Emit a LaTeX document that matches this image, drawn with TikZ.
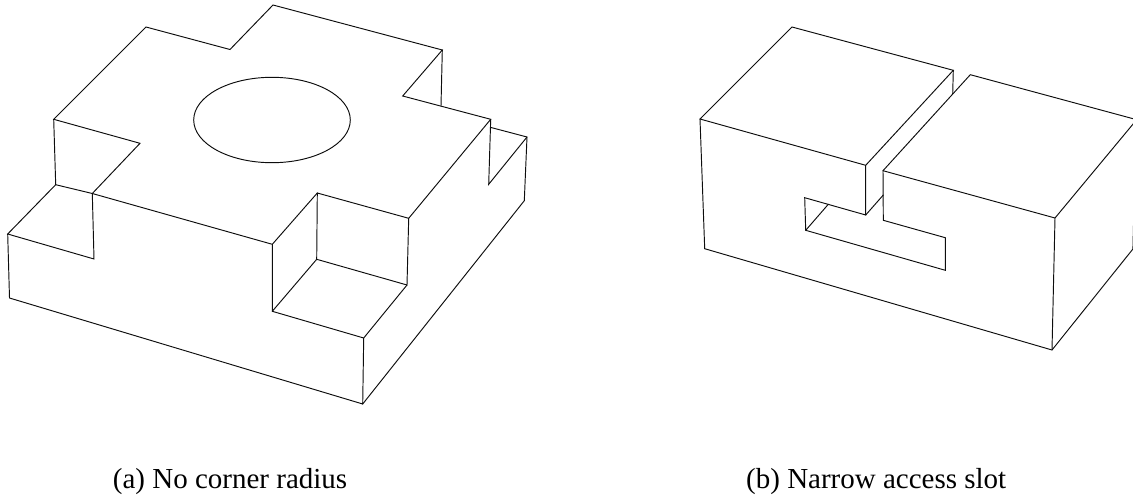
\documentclass[tikz,border=0pt]{standalone}
\usepackage{fontspec}
\setmainfont{Liberation Serif}
\tikzset{
  edge/.style={line width=0.95pt,line join=miter,line cap=round,draw=black!95},
  caption/.style={inner sep=0pt,anchor=base west,font=\fontsize{29}{32}\selectfont}
}
\begin{document}
\begin{tikzpicture}[x=1pt,y=-1pt]
\useasboundingbox (0,0) rectangle (1133,498);
% Figure (a)
\draw[edge] (146,27) -- (230,49.5) -- (273,5) -- (442.3,50) -- (402.7,96) -- (490.7,119.3) -- (408.7,218.3) -- (317.3,193) -- (272.3,244.3) -- (92.3,193.5) -- (140,143.3) -- (53.7,119.3) -- cycle;
\draw[edge] (442.3,50) -- (441,106);
\draw[edge] (53.7,119.3) -- (55.7,184.7) -- (92.3,193.5) -- (94,259) -- (7.7,234) -- (55.7,184.7);
\draw[edge] (7.7,234) -- (9.5,298) -- (362.7,404) -- (524.3,200.7) -- (527,137) -- (491,127.5);
\draw[edge] (527,137) -- (488.7,184.3) -- (490.7,119.3);
\draw[edge] (272.3,244.3) -- (272.3,311.3) -- (363.7,338) -- (362.7,404);
\draw[edge] (272.3,311.3) -- (316.7,259.3) -- (317.3,193);
\draw[edge] (316.7,259.3) -- (407,285) -- (408.7,218.3);
\draw[edge] (407,285) -- (363.7,338);
\draw[edge] (272,120) ellipse [x radius=78.3,y radius=42.7];
% Figure (b)
\draw[edge] (700,119) -- (792,27) -- (953.3,70.3) -- (865.7,165.3) -- cycle;
\draw[edge] (700,119) -- (704.7,248.7) -- (1052,350) -- (1132.9,249) -- (1136,120.5);
\draw[edge] (865.7,165.3) -- (865.7,215) -- (804.7,197.7) -- (805.7,230.3) -- (945.3,270.3) -- (945.3,237.7) -- (883.3,220.3) -- (883,170.7) -- (1055,218) -- (1052,350);
\draw[edge] (883,170.7) -- (970.3,74.7) -- (1136,119.5);
\draw[edge] (1055,218) -- (1136,120.5);
\draw[edge] (865.7,215) -- (883.3,195);
\draw[edge] (953.3,70.3) -- (952.7,94);
\draw[edge] (805.7,230.3) -- (828.3,204.3);
% Captions
\node[caption] (capa) at (112.7,488) {(a) No corner radius};
\node[caption] (capb) at (746,488) {(b) Narrow access slot};
\end{tikzpicture}
\end{document}
